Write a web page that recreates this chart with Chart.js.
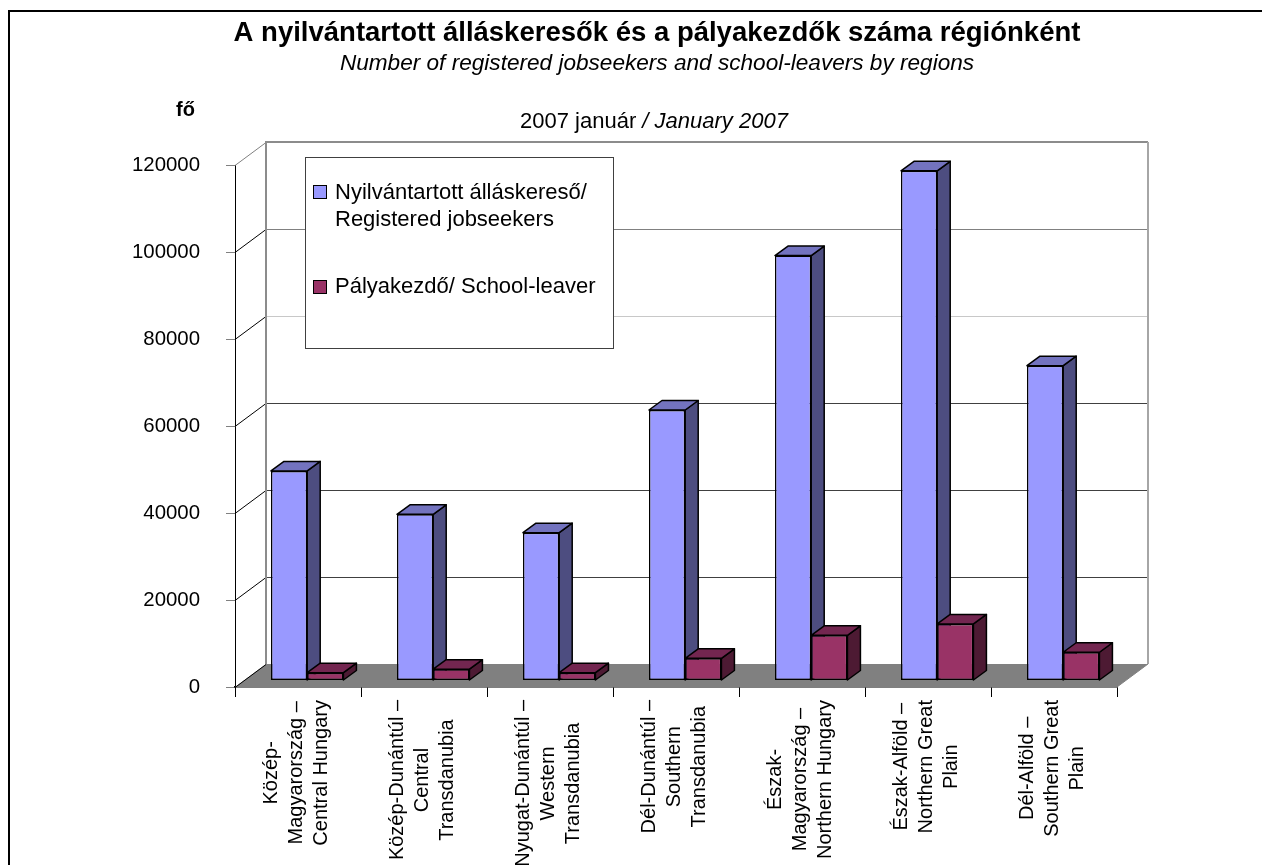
<!DOCTYPE html>
<html>
<head>
<meta charset="utf-8">
<script src="https://cdn.jsdelivr.net/npm/chart.js@4"></script>
<style>
  html, body { margin: 0; background: #fff; }
  canvas { display: block; }
</style>
</head>
<body>
<canvas id="regionsChart" width="1262" height="865"></canvas>
<script>
const FONT = '"Liberation Sans", Arial, sans-serif';

const regions = [
  ['Közép-', 'Magyarország –', 'Central Hungary'],
  ['Közép-Dunántúl –', 'Central', 'Transdanubia'],
  ['Nyugat-Dunántúl –', 'Western', 'Transdanubia'],
  ['Dél-Dunántúl –', 'Southern', 'Transdanubia'],
  ['Észak-', 'Magyarország –', 'Northern Hungary'],
  ['Észak-Alföld –', 'Northern Great', 'Plain'],
  ['Dél-Alföld –', 'Southern Great', 'Plain']
];
const jobseekers = [48200, 38200, 34000, 62200, 97700, 117200, 72400];
const schoolLeavers = [1800, 2600, 1800, 5100, 10400, 13000, 6500];
const yTicks = [0, 20000, 40000, 60000, 80000, 100000, 120000];
const wallColors = ['#808080', '#404040', '#404040', '#404040', '#c8c8c8', '#808080', '#909090'];

const legendLines = [['Nyilvántartott álláskereső/', 'Registered jobseekers'], ['Pályakezdő/ School-leaver']];

// depth of the fake 3D box and of the bars inside it
const wall = { dx: 31, dy: 23 };
const bar3d = { dx: 13, dy: 9.5, shiftX: 9.2, shiftY: -6.5 };

const box3d = {
  id: 'box3d',
  beforeDatasetsDraw(chart) {
    const { ctx, chartArea: a, scales: { x, y } } = chart;
    ctx.save();
    // floor
    ctx.fillStyle = '#808080';
    ctx.beginPath();
    ctx.moveTo(a.left, a.bottom);
    ctx.lineTo(a.right, a.bottom);
    ctx.lineTo(a.right + wall.dx, a.bottom - wall.dy);
    ctx.lineTo(a.left + wall.dx, a.bottom - wall.dy);
    ctx.closePath();
    ctx.fill();
    // gridlines on back wall + left wall
    yTicks.forEach((t, i) => {
      const py = Math.round(y.getPixelForValue(t)) + 0.5;
      ctx.strokeStyle = wallColors[i];
      ctx.lineWidth = 1;
      if (i > 0) {
        ctx.beginPath();
        ctx.moveTo(a.left + wall.dx, py - wall.dy);
        ctx.lineTo(a.right + wall.dx, py - wall.dy);
        ctx.stroke();
      }
      ctx.strokeStyle = i === 6 ? '#808080' : '#000';
      ctx.beginPath();
      ctx.moveTo(a.left, py);
      ctx.lineTo(a.left + wall.dx, py - wall.dy);
      ctx.stroke();
    });
    ctx.strokeStyle = '#8c8c8c';
    ctx.lineWidth = 2;
    ctx.beginPath();
    ctx.moveTo(a.left + wall.dx, a.bottom - wall.dy);
    ctx.lineTo(a.left + wall.dx, a.top - wall.dy);
    ctx.lineTo(a.right + wall.dx, a.top - wall.dy);
    ctx.stroke();
    ctx.strokeStyle = '#a6a6a6';
    ctx.beginPath();
    ctx.moveTo(a.right + wall.dx, a.top - wall.dy);
    ctx.lineTo(a.right + wall.dx, a.bottom - wall.dy);
    ctx.stroke();
    ctx.strokeStyle = '#808080';
    ctx.lineWidth = 1;
    ctx.beginPath();
    ctx.moveTo(a.right, a.bottom);
    ctx.lineTo(a.right + wall.dx, a.bottom - wall.dy);
    ctx.stroke();

    // bars in dataset order: each one gets its side and top, then the library draws the front
    ctx.translate(bar3d.shiftX, bar3d.shiftY);
    [0, 1].forEach(i => {
      const meta = chart.getDatasetMeta(i);
      const ds = chart.data.datasets[i];
      ctx.lineWidth = 1.5;
      ctx.strokeStyle = '#000';
      ctx.lineJoin = 'round';
      meta.data.forEach(b => {
        const l = b.x - b.width / 2, r = b.x + b.width / 2;
        ctx.fillStyle = ds.sideColor;
        ctx.beginPath();
        ctx.moveTo(r, b.y);
        ctx.lineTo(r + bar3d.dx, b.y - bar3d.dy);
        ctx.lineTo(r + bar3d.dx, b.base - bar3d.dy);
        ctx.lineTo(r, b.base);
        ctx.closePath();
        ctx.fill();
        ctx.stroke();
        ctx.fillStyle = ds.topColor;
        ctx.beginPath();
        ctx.moveTo(l, b.y);
        ctx.lineTo(l + bar3d.dx, b.y - bar3d.dy);
        ctx.lineTo(r + bar3d.dx, b.y - bar3d.dy);
        ctx.lineTo(r, b.y);
        ctx.closePath();
        ctx.fill();
        ctx.stroke();
      });
      meta.controller.draw();
    });
    ctx.restore();
    return false;
  },
  afterDraw(chart) {
    const { ctx, scales: { x } } = chart;
    ctx.save();
    // outer frame: only top and left are inside the picture
    ctx.strokeStyle = '#000';
    ctx.lineWidth = 2;
    ctx.beginPath();
    ctx.moveTo(9, 865);
    ctx.lineTo(9, 11);
    ctx.lineTo(1262, 11);
    ctx.stroke();
    ctx.lineWidth = 1;

    ctx.textBaseline = 'alphabetic';
    ctx.fillStyle = '#000';
    ctx.textAlign = 'left';
    ctx.font = 'bold 20px ' + FONT;
    ctx.fillText('fő', 176, 116);

    // date line has two fonts
    ctx.font = '22px ' + FONT;
    const datePart = '2007 január ';
    const w = ctx.measureText(datePart).width;
    ctx.fillText(datePart, 520, 128);
    ctx.font = 'italic 22px ' + FONT;
    ctx.fillText('/ January 2007', 520 + w, 128);

    // legend
    ctx.fillStyle = '#fff';
    ctx.strokeStyle = '#404040';
    ctx.fillRect(305.5, 157.5, 308, 191);
    ctx.strokeRect(305.5, 157.5, 308, 191);
    const swatches = [[313.5, 185.5], [313.5, 280.5]];
    const baselines = [[199, 226], [293]];
    legendLines.forEach((lines, i) => {
      const ds = chart.data.datasets[i];
      ctx.fillStyle = ds.backgroundColor;
      ctx.strokeStyle = '#000';
      ctx.fillRect(swatches[i][0], swatches[i][1], 13, 13);
      ctx.strokeRect(swatches[i][0], swatches[i][1], 13, 13);
      ctx.fillStyle = '#000';
      ctx.font = '22px ' + FONT;
      lines.forEach((t, j) => ctx.fillText(t, 335, baselines[i][j]));
    });

    // rotated category labels, lines centred on each other
    ctx.font = '20px ' + FONT;
    ctx.textAlign = 'center';
    ctx.textBaseline = 'middle';
    regions.forEach((lines, i) => {
      const px = x.getPixelForTick(i) - 1.6;
      const longest = Math.max(...lines.map(l => ctx.measureText(l).width));
      lines.forEach((t, j) => {
        ctx.save();
        ctx.translate(px + (j - 1) * 25.3, 700 + longest / 2);
        ctx.rotate(-Math.PI / 2);
        ctx.fillText(t, 0, 0);
        ctx.restore();
      });
    });
    ctx.restore();
  }
};

new Chart(document.getElementById('regionsChart'), {
  type: 'bar',
  data: {
    labels: regions,
    datasets: [
      { label: 'Nyilvántartott álláskereső/ Registered jobseekers', data: jobseekers, backgroundColor: '#9999ff', sideColor: '#4d4d80', topColor: '#7373bf', borderColor: '#000', borderWidth: 1.5, borderSkipped: false },
      { label: 'Pályakezdő/ School-leaver', data: schoolLeavers, backgroundColor: '#993366', sideColor: '#4d1a33', topColor: '#732650', borderColor: '#000', borderWidth: 1.5, borderSkipped: false }
    ]
  },
  plugins: [box3d],
  options: {
    responsive: false,
    animation: false,
    categoryPercentage: 0.575,
    barPercentage: 1,
    layout: { padding: { left: 52, right: 0, top: 0, bottom: 0 } },
    plugins: {
      legend: { display: false },
      tooltip: { enabled: false },
      title: {
        display: true,
        text: 'A nyilvántartott álláskeresők és a pályakezdők száma régiónként',
        color: '#000',
        font: { family: FONT, size: 27.5, weight: 'bold', lineHeight: 1.2 },
        padding: { top: 17, bottom: 0 }
      },
      subtitle: {
        display: true,
        text: 'Number of registered jobseekers and school-leavers by regions',
        color: '#000',
        font: { family: FONT, size: 22.6, style: 'italic', lineHeight: 1.2 },
        padding: { top: 0, bottom: 88 }
      }
    },
    scales: {
      x: {
        border: { color: '#000', width: 1.5 },
        grid: { drawOnChartArea: false, color: '#000', tickLength: 10, offset: true },
        ticks: { display: false },
        afterFit(s) { s.height = 178; }
      },
      y: {
        min: 0,
        max: 120000,
        afterBuildTicks(s) { s.ticks = yTicks.map(v => ({ value: v })); },
        border: { color: '#000', width: 1 },
        grid: { drawOnChartArea: false, color: '#808080', tickLength: 9 },
        ticks: { color: '#000', padding: 26, font: { family: FONT, size: 20.4 }, callback: v => String(v) },
        afterFit(s) { s.width = 183; }
      },
      // empty axis, only keeps the plot clear of the right edge so the title stays centred
      spacer: {
        position: 'right',
        display: true,
        grid: { display: false },
        border: { display: false },
        ticks: { display: false },
        afterFit(s) { s.width = 145; }
      }
    }
  }
});
</script>
</body>
</html>
